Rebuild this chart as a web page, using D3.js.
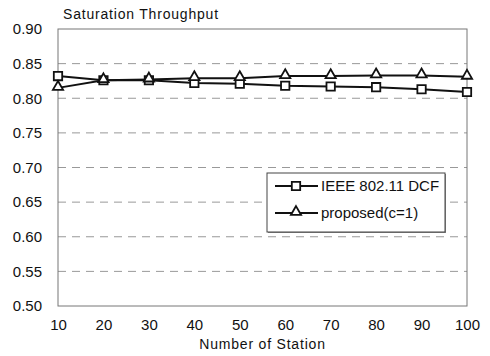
<!DOCTYPE html>
<html><head><meta charset="utf-8">
<script src="https://cdn.jsdelivr.net/npm/d3@7/dist/d3.min.js"></script>
<style>body{margin:0;background:#fff}svg{display:block;font-family:"Liberation Sans",Arial,sans-serif}</style>
</head><body><svg id="c" width="490" height="356"></svg>
<script>
const stations = [10,20,30,40,50,60,70,80,90,100];
const dcf = [0.832,0.826,0.826,0.822,0.821,0.818,0.817,0.816,0.813,0.809];
const proposed = [0.815,0.826,0.827,0.829,0.829,0.832,0.832,0.833,0.833,0.831];
const yTicks = [0.50,0.55,0.60,0.65,0.70,0.75,0.80,0.85,0.90];
const seriesNames = ["IEEE 802.11 DCF","proposed(c=1)"];

const svg = d3.select("#c");
const m = {l:58, r:467, t:29, b:306};
const x = d3.scaleLinear().domain([10,100]).range([m.l,m.r]);
const y = d3.scaleLinear().domain([0.5,0.9]).range([m.b,m.t]);

// gridlines
svg.append("g").selectAll("line").data(yTicks.slice(1,-1)).join("line")
  .attr("x1",m.l).attr("x2",m.r).attr("y1",d=>y(d)).attr("y2",d=>y(d))
  .attr("stroke","#999").attr("stroke-width",1).attr("stroke-dasharray","8,6");
// border
svg.append("rect").attr("x",m.l).attr("y",m.t).attr("width",m.r-m.l).attr("height",m.b-m.t)
  .attr("fill","none").attr("stroke","#777").attr("stroke-width",1);

// axes
const ya = d3.axisLeft(y).tickValues(yTicks).tickFormat(d3.format(".2f")).tickSize(0).tickPadding(16);
const gy = svg.append("g").attr("transform",`translate(${m.l},0)`).call(ya);
gy.select(".domain").remove();
gy.selectAll("text").attr("font-size",15).attr("fill","#111").attr("font-family","Liberation Sans, Arial, sans-serif");
const xa = d3.axisBottom(x).tickValues(stations).tickFormat(d3.format("d")).tickSize(0).tickPadding(13);
const gx = svg.append("g").attr("transform",`translate(0,${m.b})`).call(xa);
gx.select(".domain").remove();
gx.selectAll("text").attr("font-size",15).attr("fill","#111").attr("font-family","Liberation Sans, Arial, sans-serif");

svg.append("text").attr("x",63).attr("y",19).attr("font-size",14).attr("fill","#111").attr("letter-spacing","0.8").text("Saturation Throughput");
svg.append("text").attr("x",(m.l+m.r)/2).attr("y",349).attr("text-anchor","middle").attr("font-size",14).attr("fill","#111").attr("letter-spacing","0.8").text("Number of Station");

const line = d3.line().x((d,i)=>x(stations[i])).y(d=>y(d));
const sq = d3.symbol().type(d3.symbolSquare).size(70);
const tri = d3.symbol().type(d3.symbolTriangle).size(45);

svg.append("path").datum(dcf).attr("d",line).attr("fill","none").attr("stroke","#111").attr("stroke-width",2);
svg.append("path").datum(proposed).attr("d",line).attr("fill","none").attr("stroke","#111").attr("stroke-width",2);
svg.append("g").selectAll("path").data(dcf).join("path").attr("d",sq)
  .attr("transform",(d,i)=>`translate(${x(stations[i])},${y(d)})`).attr("fill","#fff").attr("stroke","#111").attr("stroke-width",1.8);
svg.append("g").selectAll("path").data(proposed).join("path").attr("d",tri)
  .attr("transform",(d,i)=>`translate(${x(stations[i])},${y(d)-1})`).attr("fill","#fff").attr("stroke","#111").attr("stroke-width",1.8);

// legend
const lg = svg.append("g");
lg.append("rect").attr("x",268).attr("y",174).attr("width",178).attr("height",59).attr("fill","#888");
lg.append("rect").attr("x",267).attr("y",173).attr("width",178).attr("height",59).attr("fill","#fff").attr("stroke","#444").attr("stroke-width",1);
[0,1].forEach(i=>{
  const yy = 186 + i*27;
  lg.append("line").attr("x1",275).attr("x2",318).attr("y1",yy).attr("y2",yy).attr("stroke","#111").attr("stroke-width",2);
  lg.append("path").attr("d", i===0?sq():tri()).attr("transform",`translate(296,${yy - (i?1:0)})`).attr("fill","#fff").attr("stroke","#111").attr("stroke-width",1.8);
  lg.append("text").attr("x",321).attr("y",yy+5).attr("font-size",15).attr("fill","#111").text(seriesNames[i]);
});
</script></body></html>
